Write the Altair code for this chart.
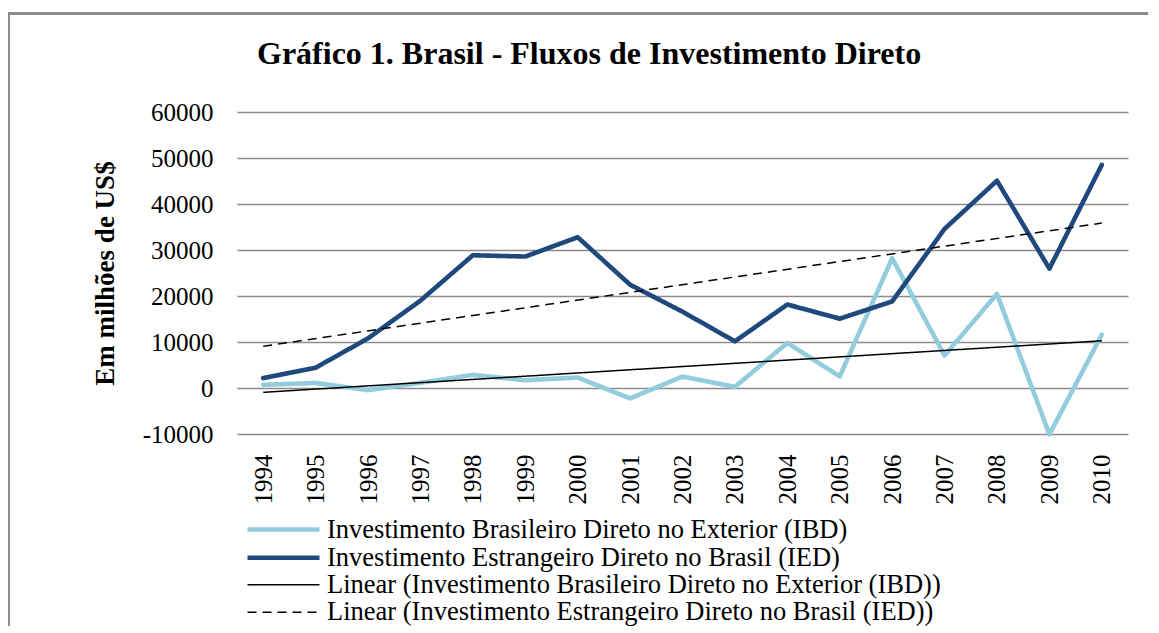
import altair as alt
import pandas as pd

years = list(range(1994, 2011))
ibd = [690, 1096, -469, 1116, 2854, 1690, 2282, -2258, 2482, 249,
       9807, 2517, 28202, 7067, 20457, -10084, 11588]
ied = [2150, 4405, 10792, 18993, 28856, 28578, 32779, 22457, 16590, 10144,
       18146, 15066, 18822, 34585, 45058, 25949, 48506]

name_ibd = "Investimento Brasileiro Direto no Exterior (IBD)"
name_ied = "Investimento Estrangeiro Direto no Brasil (IED)"
lin_ibd = "Linear (" + name_ibd + ")"
lin_ied = "Linear (" + name_ied + ")"
y_ticks = [-10000, 0, 10000, 20000, 30000, 40000, 50000, 60000]

df = pd.DataFrame({
    "year": years * 2,
    "value": ibd + ied,
    "series": [name_ibd] * len(years) + [name_ied] * len(years),
})

domain = [name_ibd, name_ied, lin_ibd, lin_ied]
color_scale = alt.Scale(domain=domain, range=["#93CDDD", "#1F497D", "#000000", "#000000"])
dash_scale = alt.Scale(domain=domain, range=[[1, 0], [1, 0], [1, 0], [9, 6]])
width_scale = alt.Scale(type="ordinal", domain=domain, range=[4.6, 4.6, 1.5, 1.5])

legend = alt.Legend(
    title=None, orient="none", legendX=32, legendY=403,
    symbolType="M-3,0H3", symbolSize=576,
    labelFont="Liberation Serif", labelFontSize=26.5, labelLimit=0,
    padding=0, rowPadding=0.3, labelOffset=29, labelColor="black",
)

x_enc = alt.X("year:Q", scale=alt.Scale(domain=[1993.5, 2010.5], nice=False, zero=False),
              axis=alt.Axis(values=years, format="d", labelAngle=-90, title=None,
                            grid=False, ticks=False, domain=False, labelPadding=20,
                            labelFont="Liberation Serif", labelFontSize=25,
                            labelColor="black"))
y_enc = alt.Y("value:Q", scale=alt.Scale(domain=[-10000, 60000], nice=False),
              axis=alt.Axis(values=y_ticks, format="d", title="Em milhões de US$",
                            labelExpr="replace(datum.label, '\u2212', '-')",
                            titleFont="Liberation Serif", titleFontSize=27,
                            titleFontWeight="bold", titleColor="black", titlePadding=23,
                            labelFont="Liberation Serif", labelFontSize=25,
                            labelColor="black", labelPadding=24, ticks=False,
                            domain=False, grid=True, gridColor="#8c8c8c",
                            gridWidth=1.3))

enc = dict(
    color=alt.Color("series:N", scale=color_scale, legend=legend),
    strokeDash=alt.StrokeDash("series:N", scale=dash_scale, legend=legend),
    strokeWidth=alt.StrokeWidth("series:N", scale=width_scale, legend=legend),
)

frame = alt.Chart(df).mark_rect(fill="transparent", stroke="#8c8c8c", strokeWidth=1.5).encode(
    x=alt.value(-228.5), x2=alt.value(1500), y=alt.value(-98.5), y2=alt.value(1000)
)

trend = alt.Chart(df).transform_regression(
    "year", "value", groupby=["series"], method="linear"
).transform_calculate(
    series="'Linear (' + datum.series + ')'"
).mark_line().encode(x=x_enc, y=y_enc, **enc)

lines = alt.Chart(df).mark_line(strokeJoin="round", strokeCap="round").encode(
    x=x_enc, y=y_enc, **enc
)

chart = alt.layer(frame, lines, trend).properties(
    width=891, height=322,
    title=alt.Title("Gráfico 1. Brasil - Fluxos de Investimento Direto",
                    font="Liberation Serif", fontSize=32, fontWeight="bold",
                    color="black", anchor="start", frame="group", dx=20, dy=83,
                    baseline="alphabetic", offset=0),
    padding={"left": 229, "top": 104, "right": 20, "bottom": 192},
    autosize=alt.AutoSizeParams(type="none"),
).configure_view(stroke=None)

chart.save("out.html", embed_options={"renderer": "svg", "actions": False})
